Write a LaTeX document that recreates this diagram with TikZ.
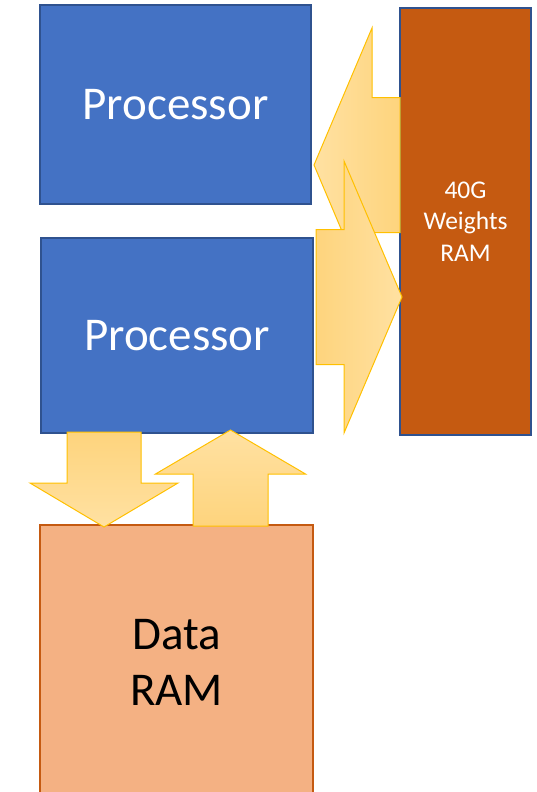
\documentclass[tikz,border=0pt]{standalone}
\usepackage{fontspec}
\setmainfont{Carlito}
\usetikzlibrary{calc}

\definecolor{procblue}{HTML}{4472C4}
\definecolor{procedge}{HTML}{2F528F}
\definecolor{rust}{HTML}{C55A11}
\definecolor{peach}{HTML}{F4B183}
\definecolor{gold}{HTML}{FFC000}
\definecolor{arrowdark}{RGB}{254,212,125}
\definecolor{arrowlight}{RGB}{255,225,162}

% block arrow: options, tail, tip, half shaft, half head, head length
\newcommand{\fatarrow}[6]{%
 \coordinate (fah) at ($(#3)!#6!(#2)$);
 \path[fat,#1] ($(#2)!#4!90:(#3)$) -- ($(fah)!#4!90:(#3)$) -- ($(fah)!#5!90:(#3)$)
  -- (#3) -- ($(fah)!#5!-90:(#3)$) -- ($(fah)!#4!-90:(#3)$) -- ($(#2)!#4!-90:(#3)$) -- cycle;
}

\begin{document}
\begin{tikzpicture}[x=1pt,y=-1pt,
 box/.style={draw,line width=1.4pt,inner sep=0pt,text=white},
 proc/.style={box,fill=procblue,draw=procedge,font=\fontsize{47}{56}\selectfont},
 fat/.style={draw=gold,line width=1pt,line join=miter}]
 \useasboundingbox (0,0) rectangle (536,792);

 \node[proc,minimum width=271,minimum height=199] (proc1) at (175.5,104.5) {Processor};
 \node[proc,minimum width=272,minimum height=195] (proc2) at (177,335.5) {Processor};
 \node[box,fill=rust,draw=procedge,minimum width=131,minimum height=427,align=center,
  font=\fontsize{25.5}{31.5}\selectfont] (weights) at (465.5,221.5) {40G\\Weights\\RAM};
 \node[box,fill=peach,draw=rust,text=black,minimum width=273,minimum height=275,align=center,
  font=\fontsize{47}{56}\selectfont] (dataram) at (176.5,662.5) {Data\\RAM};

 \coordinate (inTail) at (400,165);
 \coordinate (inTip) at (314,165);
 \coordinate (outTail) at (316,297);
 \coordinate (outTip) at (402,297);
 \coordinate (downTail) at (104,432);
 \coordinate (downTip) at (104,527);
 \coordinate (upTail) at (230.5,526);
 \coordinate (upTip) at (230.5,430);

 \fatarrow{left color=arrowlight,right color=arrowdark}{inTail}{inTip}{67.5pt}{137pt}{58pt}
 \fatarrow{left color=arrowdark,right color=arrowlight}{outTail}{outTip}{67.5pt}{136pt}{58pt}
 \fatarrow{top color=arrowdark,bottom color=arrowlight}{downTail}{downTip}{37pt}{74pt}{44pt}
 \fatarrow{top color=arrowlight,bottom color=arrowdark}{upTail}{upTip}{37.5pt}{75pt}{44pt}
\end{tikzpicture}
\end{document}
